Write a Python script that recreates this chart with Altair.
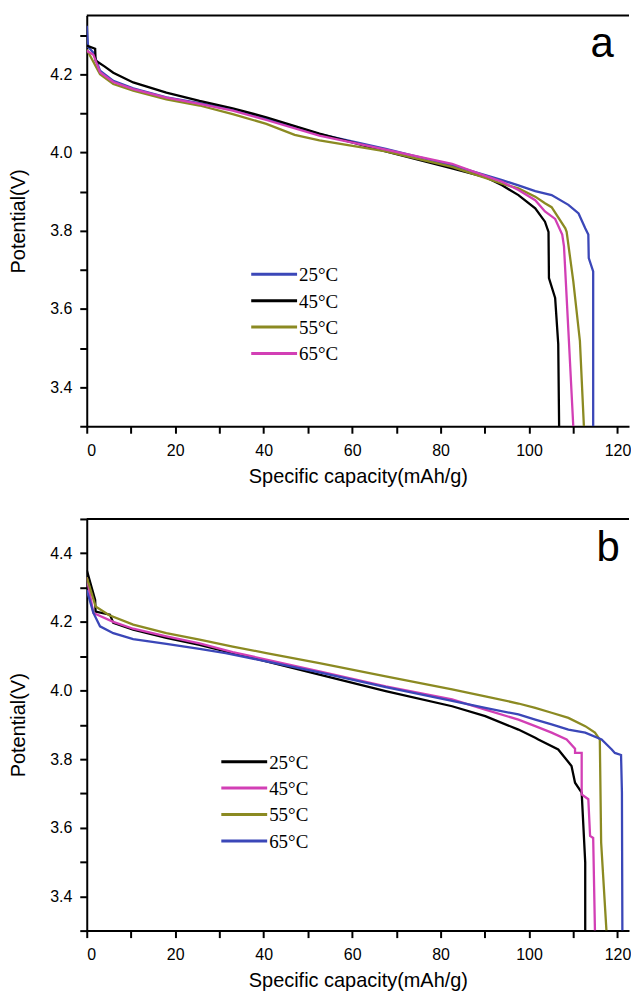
import altair as alt
import pandas as pd

# ---------------- data ----------------
# Panel a
a_labels = ["25°C", "45°C", "55°C", "65°C"]
a_colors = ["#3b47b8", "#000000", "#8b8a22", "#d23fb5"]

a25_x = [0, 0.3, 1.5, 3, 6, 10.5, 18, 25.5, 33, 40.6, 52.6, 67.6, 82.6, 90.1, 93.9, 97.6, 101.4, 105.1, 108.9, 111.2, 112.7, 113.4, 113.5, 114.5, 114.5]
a25_y = [4.324, 4.27, 4.255, 4.209, 4.183, 4.164, 4.141, 4.126, 4.11, 4.087, 4.047, 4.009, 3.967, 3.942, 3.929, 3.916, 3.901, 3.891, 3.866, 3.844, 3.806, 3.79, 3.73, 3.696, 3.30]

a45_x = [0, 1.9, 2.0, 4, 6, 10.5, 18, 25.5, 33, 40.6, 52.6, 67.6, 82.6, 90.1, 93.9, 97.6, 101.4, 103.6, 104.4, 104.5, 105.9, 106.6, 106.8]
a45_y = [4.273, 4.265, 4.235, 4.22, 4.204, 4.179, 4.153, 4.132, 4.113, 4.09, 4.048, 4.003, 3.959, 3.937, 3.916, 3.891, 3.857, 3.823, 3.797, 3.679, 3.628, 3.51, 3.30]

a55_x = [0, 3, 6, 10.5, 18, 25.5, 33, 40.6, 47, 52.6, 67.6, 82.6, 90.1, 93.9, 97.6, 101.4, 103.6, 105.1, 108.2, 108.5, 110.0, 111.5, 112.4]
a55_y = [4.263, 4.2, 4.175, 4.158, 4.136, 4.12, 4.098, 4.073, 4.045, 4.031, 4.003, 3.963, 3.935, 3.92, 3.908, 3.887, 3.87, 3.86, 3.806, 3.797, 3.671, 3.518, 3.30]

a65_x = [0, 1.5, 3, 6, 10.5, 18, 25.5, 33, 40.6, 52.6, 67.6, 82.6, 90.1, 93.9, 97.6, 101.4, 103.6, 105.9, 107.5, 107.9, 108.9, 110.0]
a65_y = [4.26, 4.25, 4.205, 4.18, 4.162, 4.14, 4.124, 4.107, 4.083, 4.043, 4.007, 3.971, 3.94, 3.925, 3.904, 3.878, 3.849, 3.83, 3.79, 3.76, 3.543, 3.30]

# Panel b
b_labels = ["25°C", "45°C", "55°C", "65°C"]
b_colors = ["#000000", "#d23fb5", "#8b8a22", "#3b47b8"]

b25_x = [0, 1.9, 2.0, 5.25, 6, 10.5, 18, 25.5, 33, 40.6, 52.6, 67.6, 82.6, 90.1, 97.6, 101.4, 102.1, 106.6, 109.6, 110.4, 111.9, 112.7, 112.7]
b25_y = [4.351, 4.264, 4.23, 4.221, 4.197, 4.177, 4.153, 4.133, 4.109, 4.085, 4.046, 3.998, 3.954, 3.925, 3.886, 3.862, 3.857, 3.828, 3.78, 3.731, 3.702, 3.499, 3.30]

b45_x = [0, 1.5, 6, 10.5, 18, 25.5, 33, 40.6, 52.6, 67.6, 82.6, 90.1, 97.6, 101.4, 105.1, 108.5, 110.4, 110.4, 111.9, 111.9, 113.4, 113.8, 114.5, 114.9]
b45_y = [4.33, 4.226, 4.2, 4.18, 4.158, 4.137, 4.112, 4.09, 4.056, 4.012, 3.974, 3.944, 3.915, 3.896, 3.877, 3.857, 3.83, 3.818, 3.818, 3.697, 3.683, 3.576, 3.57, 3.30]

b55_x = [0, 2, 5, 10.5, 18, 25.5, 33, 40.6, 52.6, 67.6, 82.6, 90.1, 97.6, 101.4, 105.1, 108.9, 112.7, 114.9, 116.0, 116.3, 117.5]
b55_y = [4.33, 4.245, 4.22, 4.192, 4.167, 4.148, 4.128, 4.109, 4.08, 4.041, 4.003, 3.983, 3.962, 3.949, 3.935, 3.92, 3.896, 3.877, 3.857, 3.557, 3.30]

b65_x = [0, 1.5, 3, 6, 10.5, 18, 25.5, 31.4, 40.6, 52.6, 67.6, 82.6, 90.1, 97.6, 101.4, 105.1, 108.9, 112.7, 116.4, 118.7, 119.4, 120.8, 121.0, 121.1]
b65_y = [4.293, 4.226, 4.187, 4.167, 4.15, 4.136, 4.121, 4.109, 4.085, 4.053, 4.01, 3.97, 3.949, 3.93, 3.915, 3.901, 3.886, 3.877, 3.857, 3.828, 3.818, 3.812, 3.702, 3.30]

x_ticks = [0, 10, 20, 30, 40, 50, 60, 70, 80, 90, 100, 110, 120]
a_y_ticks = [3.3, 3.4, 3.5, 3.6, 3.7, 3.8, 3.9, 4.0, 4.1, 4.2, 4.3]
b_y_ticks = [3.3, 3.4, 3.5, 3.6, 3.7, 3.8, 3.9, 4.0, 4.1, 4.2, 4.3, 4.4, 4.5]
x_title = "Specific capacity(mAh/g)"
y_title = "Potential(V)"

# ---------------- layout ----------------
W = 544
X_DOMAIN = [0, 122.6]


def frame(series, labels):
    rows = []
    for (xs, ys), lab in zip(series, labels):
        for i, (xv, yv) in enumerate(zip(xs, ys)):
            rows.append({"x": xv, "v": yv, "series": lab, "i": i})
    return pd.DataFrame(rows)


def panel(series, labels, colors, ydom, yticks, height, letter, letter_xy,
          leg_x, leg_y0, leg_dy):
    df = frame(series, labels)
    lines = alt.Chart(df).mark_line(strokeWidth=2.3, clip=True).encode(
        x=alt.X("x:Q", scale=alt.Scale(domain=X_DOMAIN, nice=False, zero=False),
                axis=alt.Axis(values=x_ticks, title=x_title,
                              labelExpr="datum.value % 20 == 0 ? datum.label : ''",
                              labelPadding=9, titlePadding=8)),
        y=alt.Y("v:Q", scale=alt.Scale(domain=ydom, nice=False, zero=False),
                axis=alt.Axis(values=yticks, title=y_title,
                              labelExpr="round(datum.value*10) % 2 == 0 ? format(datum.value, '.1f') : ''",
                              labelPadding=8, titlePadding=21)),
        color=alt.Color("series:N", scale=alt.Scale(domain=labels, range=colors), legend=None),
        order="i:Q",
    )
    layers = [lines]
    # top frame line
    layers.append(alt.Chart(pd.DataFrame({"k": [0]})).mark_rule(color="black", strokeWidth=2).encode(
        x=alt.value(0), x2=alt.value(W), y=alt.value(0)))
    # panel letter
    layers.append(alt.Chart(pd.DataFrame({"t": [letter]})).mark_text(
        font="Liberation Sans", fontSize=42, align="center", baseline="alphabetic", color="black"
    ).encode(text="t:N", x=alt.value(letter_xy[0]), y=alt.value(letter_xy[1])))
    # legend
    for k, (lab, col) in enumerate(zip(labels, colors)):
        yy = leg_y0 + k * leg_dy
        d = pd.DataFrame({"t": [lab]})
        layers.append(alt.Chart(d).mark_rule(color=col, strokeWidth=3).encode(
            x=alt.value(leg_x), x2=alt.value(leg_x + 46), y=alt.value(yy)))
        layers.append(alt.Chart(d).mark_text(
            font="Liberation Serif", fontSize=19, align="left", baseline="middle", color="black"
        ).encode(text="t:N", x=alt.value(leg_x + 48), y=alt.value(yy + 1)))
    return alt.layer(*layers).properties(width=W, height=height)


pa = panel([(a25_x, a25_y), (a45_x, a45_y), (a55_x, a55_y), (a65_x, a65_y)],
           a_labels, a_colors, [3.3, 4.35], a_y_ticks, 412, "a", (517, 42),
           165, 259.5, 26.5)
pb = panel([(b25_x, b25_y), (b45_x, b45_y), (b55_x, b55_y), (b65_x, b65_y)],
           b_labels, b_colors, [3.3, 4.5], b_y_ticks, 413, "b", (523, 42),
           135, 243.5, 26.5)

chart = alt.vconcat(pa, pb, spacing=32).resolve_scale(color="independent").properties(
    padding={"left": 0, "top": 5, "right": 0, "bottom": 0}
).configure_view(stroke=None).configure_axis(
    grid=False, domainColor="black", domainWidth=2, tickColor="black", tickWidth=2,
    tickSize=7, labelFont="Liberation Sans", labelFontSize=16, labelColor="black",
    titleFont="Liberation Sans", titleFontSize=20, titleFontWeight="normal", titleColor="black",
)

chart.save("out.html", embed_options={"renderer": "svg", "actions": False})
